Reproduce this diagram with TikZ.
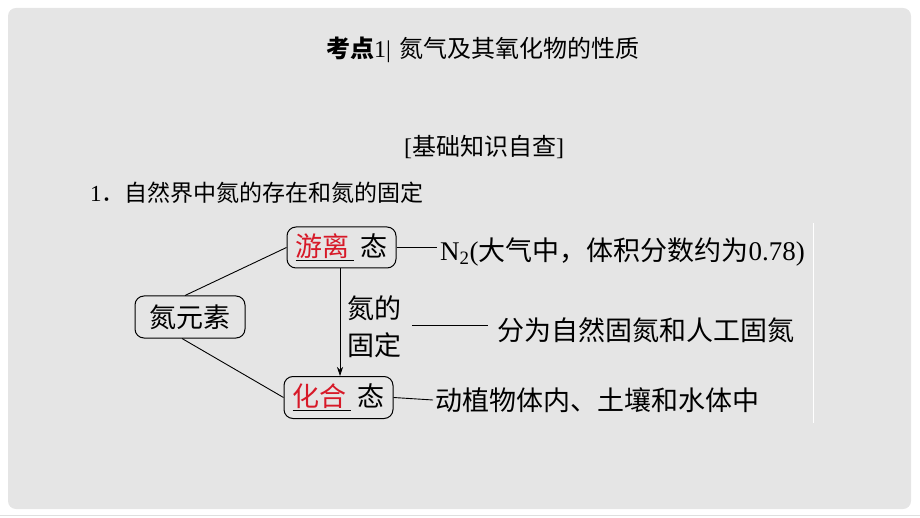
\documentclass[tikz,border=0pt]{standalone}
\usepackage{fontspec}
\setmainfont{Noto Sans CJK SC}
\newfontfamily\lat{Liberation Serif}
\usetikzlibrary{arrows.meta}
\definecolor{panelgray}{RGB}{229,229,229}
\definecolor{blankred}{RGB}{215,25,40}
\newcommand\blank[1]{\underline{\textcolor{blankred}{#1}\,}}
\tikzset{
  statebox/.style={draw, rounded corners=9pt, line width=1pt,
    minimum width=110pt, minimum height=42pt, inner sep=0pt,
    font=\fontsize{27}{30}\selectfont},
  plaintext/.style={anchor=west, inner sep=0pt, font=\fontsize{27}{30}\selectfont},
  headtext/.style={inner sep=0pt, font=\fontsize{24}{28}\selectfont}
}
\begin{document}
\begin{tikzpicture}[x=1pt,y=-1pt]
      \useasboundingbox (0,0) rectangle (920,518);
      \fill[panelgray, rounded corners=8pt] (8,8) rectangle (911,509);
      \draw[gray!25] (0,515) -- (920,515);
      \draw[white, line width=0.5pt] (813,223) -- (813,423);
      \draw
        (483,50) node[headtext] (title){{\bfseries 考点}{\lat 1|}\hspace{9pt}氮气及其氧化物的性质}
        (484,147) node[headtext] (zhishi){{\lat[}基础知识自查{\lat]}}
        (90,193) node[headtext,anchor=west,font=\fontsize{23}{28}\selectfont] (item){{\lat 1}．自然界中氮的存在和氮的固定}
        (190,317) node[statebox] (yuansu){氮元素}
        (341.5,247.5) node[statebox, minimum width=109pt, minimum height=41pt] (youli){\blank{游离}~态}
        (338.5,397.5) node[statebox, minimum width=109pt] (huahe){\blank{化合}~态}
        (374,327) node[inner sep=0pt, align=center, font=\fontsize{27}{37}\selectfont] (guding){氮的\\固定}
        (440,252) node[plaintext] (qiti){{\lat N\textsubscript{2}(}大气中，体积分数约为{\lat 0.78)}}
        (497,330) node[plaintext] (gudan){分为自然固氮和人工固氮}
        (435,400) node[plaintext] (cunzai){动植物体内、土壤和水体中}
        (412,325) coordinate (gudingend);
      \begin{scope}[line width=0.9pt]
        \draw ([xshift=-5pt]yuansu.north) to (youli.west);
        \draw ([xshift=-8pt]yuansu.south) to (huahe.west);
        \draw[-{Stealth[length=9pt,width=6pt]}, line width=0.7pt] ([xshift=-1.5pt]youli.south) to ([xshift=1.5pt]huahe.north);
        \draw (youli.east) to ([xshift=-3pt]youli.east -| qiti.west);
        \draw (gudingend) to ([xshift=-9pt]gudingend -| gudan.west);
        \draw (huahe.east) to ([xshift=-2pt]cunzai.west);
      \end{scope}
    \end{tikzpicture}
\end{document}
